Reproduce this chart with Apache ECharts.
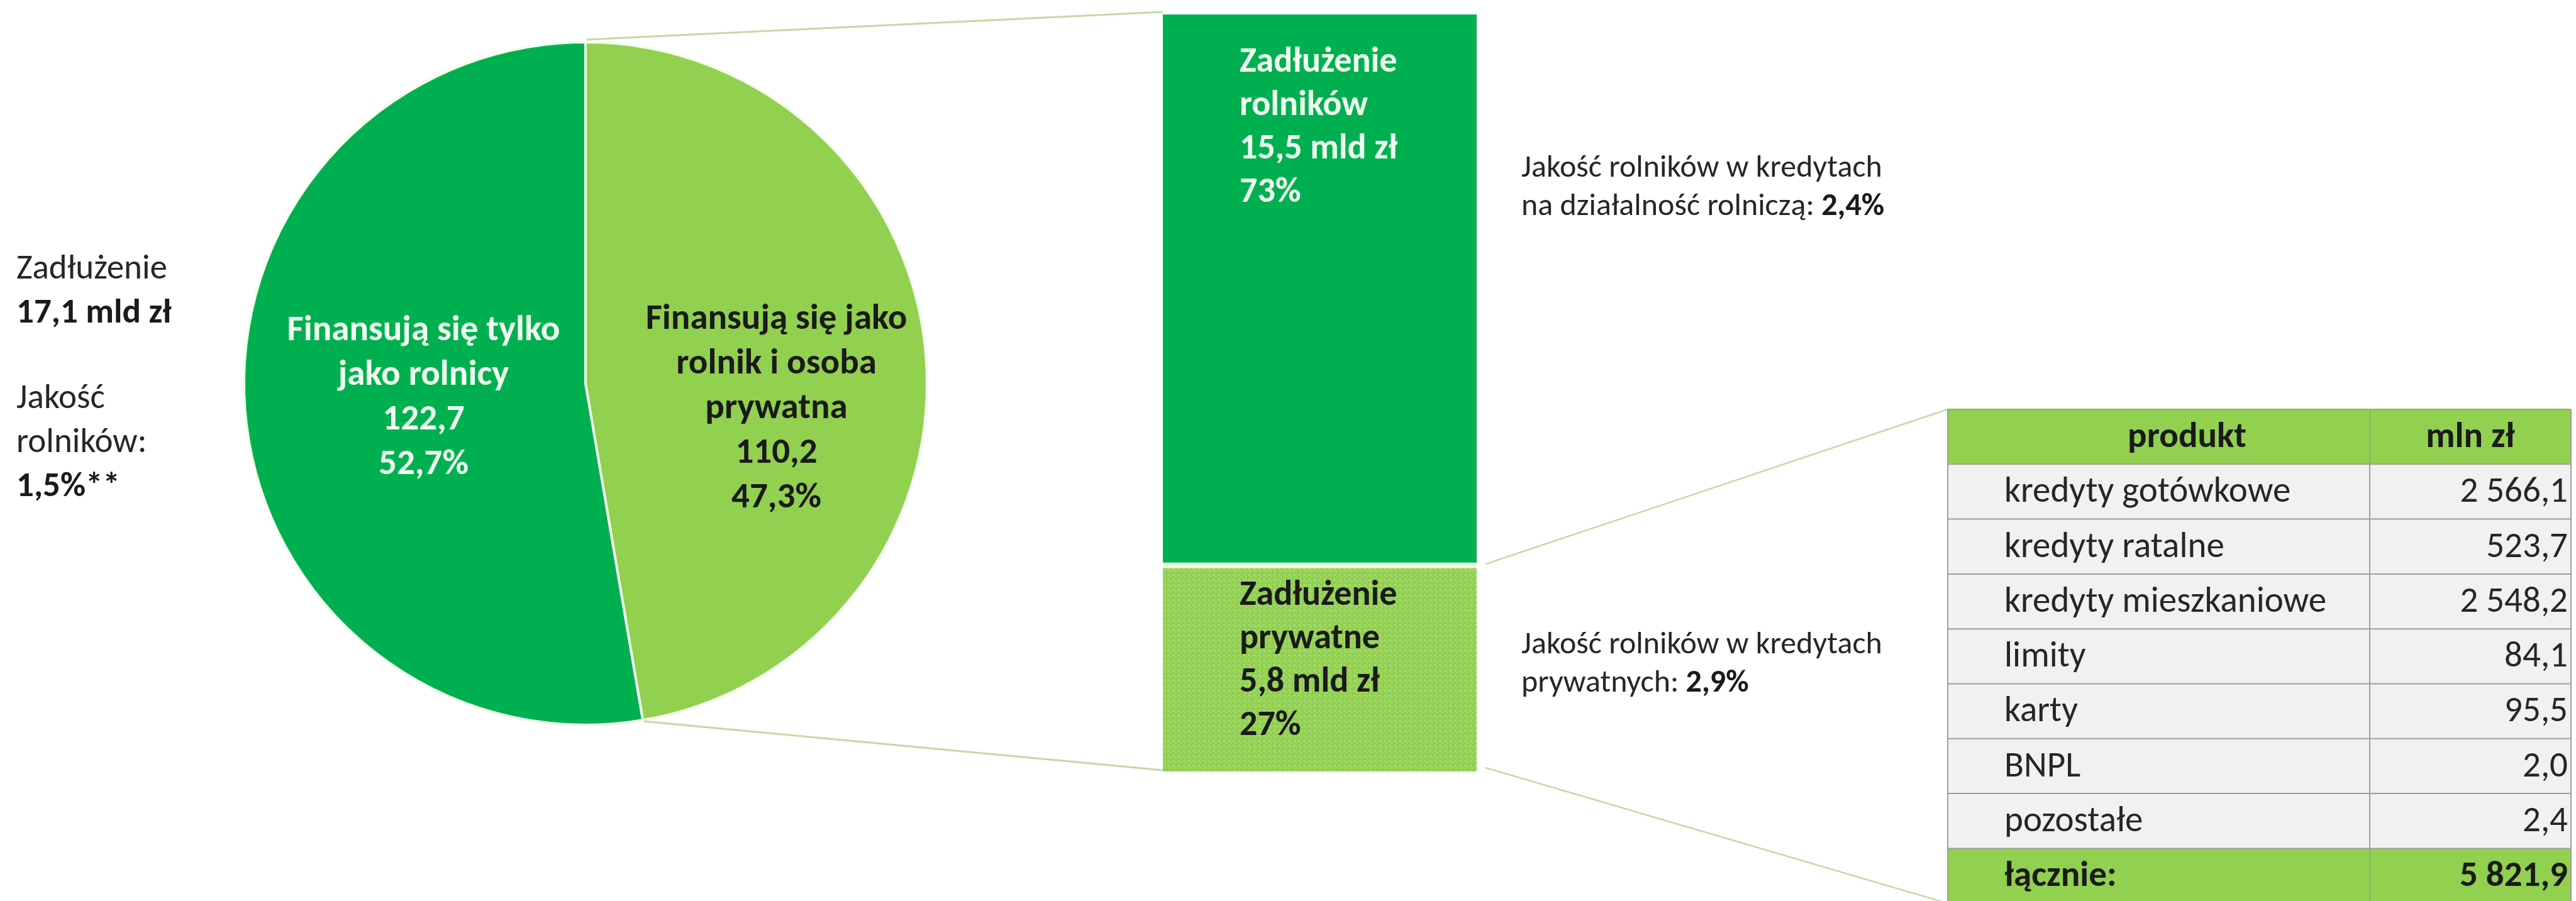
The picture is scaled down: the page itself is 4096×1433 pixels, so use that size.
<!DOCTYPE html>
<html>
<head>
<meta charset="utf-8">
<script src="https://cdn.jsdelivr.net/npm/echarts@6/dist/echarts.min.js"></script>
<style>
  html, body { margin: 0; padding: 0; background: #ffffff; }
  #chart { width: 4096px; height: 1433px; }
</style>
</head>
<body>
<div id="chart"></div>
<script>
// Rolnicy wg sposobu finansowania (tys.)
const segmentNames = ['Finansują się jako\nrolnik i osoba\nprywatna', 'Finansują się tylko\njako rolnicy'];
const segmentValues = [110.2, 122.7];

// Zadłużenie rolników finansujących się także prywatnie (mld zł)
const debtNames = ['Zadłużenie\nprywatne', 'Zadłużenie\nrolników'];
const debtValues = [5.8, 15.5];

// Struktura zadłużenia prywatnego (mln zł)
const tableHeader = ['produkt', 'mln zł'];
const productNames = ['kredyty gotówkowe', 'kredyty ratalne', 'kredyty mieszkaniowe', 'limity', 'karty', 'BNPL', 'pozostałe'];
const productValues = [2566.1, 523.7, 2548.2, 84.1, 95.5, 2.0, 2.4];
const totalLabel = 'łącznie:';
const productTotal = 5821.9;

// Opisy
const onlyFarmDebt = 17.1;      // mld zł
const onlyFarmQuality = '1,5%**';
const farmLoanQuality = '2,4%';
const privateLoanQuality = '2,9%';

// ---- layout ----
const PIE = { cx: 931, cy: 610, r: 543 };
const BAR = { left: 1849, top: 23, width: 499, height: 1204 };
const TABLE = { left: 3097, inner: 3187, split: 3768, right: 4088, top: 651, rowH: 87.3 };
const FONT = 'Carlito, Lato, "Noto Sans", sans-serif';
const DARK = '#00B050';
const LIGHT = '#92D050';
const INK = '#262626';
const LINK = '#c6d9a4';

function plNum(v, d) {
  const parts = v.toFixed(d).split('.');
  const intPart = parts[0].replace(/\B(?=(\d{3})+(?!\d))/g, '\u00a0');
  return d ? intPart + ',' + parts[1] : intPart;
}

const pieSum = segmentValues.reduce((a, b) => a + b, 0);
const debtSum = debtValues.reduce((a, b) => a + b, 0);

// fine checked fill for the private-debt block
const tile = document.createElement('canvas');
tile.width = 8; tile.height = 8;
const tctx = tile.getContext('2d');
tctx.fillStyle = '#93d152';
tctx.fillRect(0, 0, 8, 8);
tctx.fillStyle = '#a2d969';
tctx.fillRect(0, 0, 4, 4);
tctx.fillRect(4, 4, 4, 4);
tctx.fillStyle = '#89c948';
tctx.fillRect(0, 7, 8, 1);
tctx.fillRect(7, 0, 1, 8);

const chart = echarts.init(document.getElementById('chart'), null, { renderer: 'canvas' });

const pieLabelBase = {
  show: true,
  position: 'inside',
  fontFamily: FONT,
  fontWeight: 'bold',
  fontSize: 57,
  lineHeight: 71,
  align: 'center',
  formatter: p => p.name + '\n' + plNum(p.value, 1) + '\n' + plNum(p.value / pieSum * 100, 1) + '%'
};

const barLabel = (color, padTop) => ({
  show: true,
  position: 'insideTopLeft',
  distance: 0,
  padding: [padTop, 0, 0, 122],
  color: color,
  fontFamily: FONT,
  fontWeight: 'bold',
  fontSize: 56,
  lineHeight: 69,
  align: 'left',
  formatter: p => p.seriesName + '\n' + plNum(p.value, 1) + ' mld zł\n' + Math.round(p.value / debtSum * 100) + '%'
});

chart.setOption({
  animation: false,
  backgroundColor: '#ffffff',
  grid: { left: BAR.left, top: BAR.top, width: BAR.width, height: BAR.height },
  xAxis: { type: 'category', data: ['zadłużenie'], show: false },
  yAxis: { type: 'value', min: 0, max: debtSum, show: false },
  series: [
    {
      type: 'pie',
      center: [PIE.cx, PIE.cy],
      radius: PIE.r,
      startAngle: 90,
      clockwise: true,
      silent: true,
      itemStyle: { borderColor: '#f4fbee', borderWidth: 4 },
      labelLine: { show: false },
      labelLayout: p => (p.dataIndex === 0 ? { dx: 15, dy: 32 } : { dx: 8, dy: 0 }),
      data: [
        {
          name: segmentNames[0], value: segmentValues[0],
          itemStyle: { color: LIGHT },
          label: Object.assign({}, pieLabelBase, { color: '#1a1a1a' })
        },
        {
          name: segmentNames[1], value: segmentValues[1],
          itemStyle: { color: DARK },
          label: Object.assign({}, pieLabelBase, { color: '#f0fff0' })
        }
      ]
    },
    {
      type: 'bar', name: debtNames[0], stack: 'debt', barWidth: '100%', silent: true,
      data: [debtValues[0]],
      itemStyle: { color: { image: tile, repeat: 'repeat' } },
      label: barLabel('#1a1a1a', 14)
    },
    {
      type: 'bar', name: debtNames[1], stack: 'debt', barWidth: '100%', silent: true,
      data: [debtValues[1]],
      itemStyle: { color: DARK },
      label: barLabel('#f0fff0', 42)
    }
  ]
});

// ---- connectors, notes and product table ----
const yTop = chart.convertToPixel({ yAxisIndex: 0 }, debtSum);
const ySplit = chart.convertToPixel({ yAxisIndex: 0 }, debtValues[0]);
const yBottom = chart.convertToPixel({ yAxisIndex: 0 }, 0);
const barRight = BAR.left + BAR.width;

const sweep = segmentValues[0] / pieSum * 2 * Math.PI;
const edgeAngle = Math.PI / 2 - sweep;
const pieTop = [PIE.cx, PIE.cy - PIE.r];
const pieEdge = [PIE.cx + PIE.r * Math.cos(edgeAngle), PIE.cy - PIE.r * Math.sin(edgeAngle)];

const tableRows = productNames.length + 2;
const tableBottom = TABLE.top + tableRows * TABLE.rowH;

const graphic = [];
const line = (x1, y1, x2, y2, stroke, w) => graphic.push({
  type: 'line', silent: true, z: 5,
  shape: { x1, y1, x2, y2 },
  style: { stroke, lineWidth: w }
});

line(pieTop[0] + 2, pieTop[1] - 4, BAR.left, yTop - 4, LINK, 3);
line(pieEdge[0] + 2, pieEdge[1] + 2, BAR.left, yBottom - 2, LINK, 3);
line(barRight + 14, ySplit - 2, TABLE.left, TABLE.top, LINK, 2.5);
line(barRight + 14, yBottom - 6, TABLE.left, tableBottom, LINK, 2.5);

// white gap between the two debt blocks
graphic.push({
  type: 'line', silent: true, z: 10,
  shape: { x1: BAR.left, y1: ySplit, x2: barRight, y2: ySplit },
  style: { stroke: '#ecf8e1', lineWidth: 9 }
});

const note = (x, y, text, size, lh) => graphic.push({
  type: 'text', silent: true, x, y, z: 20,
  style: {
    text, fill: INK, fontFamily: FONT, fontSize: size, lineHeight: lh,
    verticalAlign: 'top', align: 'left',
    rich: {
      b: { fontFamily: FONT, fontSize: size, lineHeight: lh, fontWeight: 'bold', fill: '#1a1a1a' }
    }
  }
});

note(26, 394, 'Zadłużenie\n{b|' + plNum(onlyFarmDebt, 1) + ' mld zł}', 55, 70);
note(26, 600, 'Jakość\nrolników:\n{b|' + onlyFarmQuality + '}', 55, 70);
note(2419, 238, 'Jakość rolników w kredytach\nna działalność rolniczą: {b|' + farmLoanQuality + '}', 50, 61);
note(2419, 996, 'Jakość rolników w kredytach\nprywatnych: {b|' + privateLoanQuality + '}', 50, 61);

// product table
const rowsText = [[tableHeader[0], tableHeader[1], 'head']]
  .concat(productNames.map((n, i) => [n, plNum(productValues[i], 1), 'body']))
  .concat([[totalLabel, plNum(productTotal, 1), 'total']]);

const cellText = (x, y, text, bold, align) => graphic.push({
  type: 'text', silent: true, z: 20, x, y,
  style: {
    text, fill: bold ? '#1a1a1a' : INK, fontFamily: FONT, fontSize: 57,
    fontWeight: bold ? 'bold' : 'normal', align, verticalAlign: 'middle'
  }
});

rowsText.forEach((row, i) => {
  const y = TABLE.top + i * TABLE.rowH;
  const kind = row[2];
  graphic.push({
    type: 'rect', silent: true, z: 1,
    shape: { x: TABLE.left, y, width: TABLE.right - TABLE.left, height: TABLE.rowH },
    style: { fill: kind === 'body' ? '#f1f1f1' : LIGHT }
  });
  const bold = kind !== 'body';
  const cy = y + TABLE.rowH / 2 + 2;
  if (kind === 'head') {
    cellText((TABLE.inner + TABLE.split) / 2, cy, row[0], true, 'center');
    cellText((TABLE.split + TABLE.right) / 2, cy, row[1], true, 'center');
  } else {
    cellText(TABLE.inner, cy, row[0], bold, 'left');
    cellText(TABLE.right - 5, cy, row[1], bold, 'right');
  }
  if (i > 0) line(TABLE.left, y, TABLE.right, y, '#9e9e9e', 2);
});
line(TABLE.split, TABLE.top, TABLE.split, tableBottom, '#9e9e9e', 2);
line(TABLE.left, TABLE.top, TABLE.left, tableBottom, '#9e9e9e', 2);
line(TABLE.right, TABLE.top, TABLE.right, tableBottom, '#9e9e9e', 2);
line(TABLE.left, TABLE.top, TABLE.right, TABLE.top, '#86b95a', 2);

chart.setOption({ graphic });
</script>
</body>
</html>
